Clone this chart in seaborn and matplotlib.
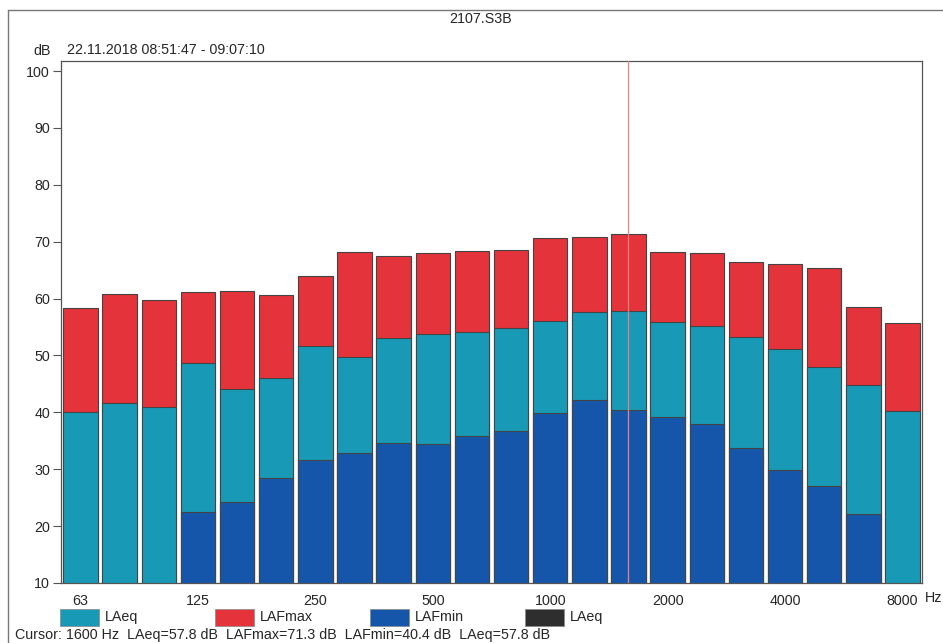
"""
Third-octave band spectrum (LAFmax / LAeq / LAFmin) for 2107.S3B,
overlaid bars as in the sound level meter printout.
"""

import pandas as pd
import seaborn as sns
import matplotlib.pyplot as plt
from matplotlib.patches import Rectangle
from matplotlib.lines import Line2D

bands = ['63', '80', '100', '125', '160', '200', '250', '315', '400', '500', '630',
         '800', '1000', '1250', '1600', '2000', '2500', '3150', '4000', '5000', '6300', '8000']
lafmax = [58.4, 60.8, 59.7, 61.2, 61.4, 60.6, 64.0, 68.1, 67.5, 68.0, 68.4,
          68.5, 70.7, 70.9, 71.3, 68.1, 68.0, 66.4, 66.1, 65.4, 58.6, 55.7]
laeq = [40.0, 41.6, 40.9, 48.7, 44.1, 46.0, 51.7, 49.7, 53.1, 53.7, 54.1,
        54.8, 56.1, 57.6, 57.8, 55.8, 55.2, 53.3, 51.1, 47.9, 44.8, 40.2]
lafmin = [None, None, None, 22.5, 24.2, 28.5, 31.7, 32.9, 34.6, 34.4, 35.8,
          36.8, 39.9, 42.2, 40.4, 39.1, 37.9, 33.7, 29.9, 27.1, 22.1, None]
tick_bands = ['63', '125', '250', '500', '1000', '2000', '4000', '8000']
cursor_band = '1600'

df = pd.DataFrame({'band': bands, 'LAFmax': lafmax, 'LAeq': laeq, 'LAFmin': lafmin})

c_eq = '#189ab6'
c_max = '#e5333b'
c_min = '#1556ab'
c_dark = '#2e2e2e'

sns.set_style('white')
plt.rcParams['font.family'] = ['Liberation Sans', 'DejaVu Sans']
fs = 10.3

W, H = 943, 643
fig = plt.figure(figsize=(W / 100, H / 100), dpi=100)
ax = fig.add_axes([61 / W, 1 - 583 / H, (922 - 61) / W, (583 - 61) / H])

for col, color in [('LAFmax', c_max), ('LAeq', c_eq), ('LAFmin', c_min)]:
    sub = df[['band', col]].dropna()
    sns.barplot(data=sub, x='band', y=col, order=bands, color=color, width=0.88,
                edgecolor='#444444', linewidth=0.8, saturation=1, ax=ax)

ax.set_xlim(-0.5, len(bands) - 0.5)
ax.set_ylim(10, 101.76)
ax.set_yticks(range(10, 101, 10))
ax.set_xticks([bands.index(b) for b in tick_bands])
ax.set_xticklabels(tick_bands, fontsize=fs)
ax.tick_params(axis='y', labelsize=fs, length=6, width=0.8, color='#555555', pad=2, left=True)
ax.tick_params(axis='x', length=0, pad=8)
ax.set_xlabel('')
ax.set_ylabel('')
for s in ax.spines.values():
    s.set_color('#555555')
    s.set_linewidth(0.9)

ax.axvline(bands.index(cursor_band), color='#f08080', lw=0.9, zorder=10)

# header texts
fig.text(481 / W, 1 - 19 / H, '2107.S3B', ha='center', va='center', fontsize=fs)
fig.text(33 / W, 1 - 51 / H, 'dB', ha='left', va='center', fontsize=fs)
fig.text(67 / W, 1 - 50 / H, '22.11.2018 08:51:47 - 09:07:10', ha='left', va='center', fontsize=fs)
fig.text(925 / W, 1 - 598 / H, 'Hz', ha='left', va='center', fontsize=fs)

# outer frame of the printout
fig.add_artist(Line2D([8 / W, 1], [1 - 10 / H, 1 - 10 / H], color='#777777', lw=1.0))
fig.add_artist(Line2D([8 / W, 8 / W], [1 - 10 / H, 0], color='#777777', lw=1.0))

# legend
legend_items = [('LAeq', c_eq), ('LAFmax', c_max), ('LAFmin', c_min), ('LAeq', c_dark)]
for i, (name, color) in enumerate(legend_items):
    x0 = 60 + i * 155
    fig.add_artist(Rectangle((x0 / W, 1 - 626 / H), 39 / W, 17 / H, facecolor=color,
                             edgecolor='#888888', lw=0.5, transform=fig.transFigure))
    fig.text((x0 + 45) / W, 1 - 617 / H, name, ha='left', va='center', fontsize=fs)

fig.text(15 / W, 1 - 635 / H,
         'Cursor: 1600 Hz  LAeq=57.8 dB  LAFmax=71.3 dB  LAFmin=40.4 dB  LAeq=57.8 dB',
         ha='left', va='center', fontsize=fs)

plt.savefig('out.png', dpi=100)
